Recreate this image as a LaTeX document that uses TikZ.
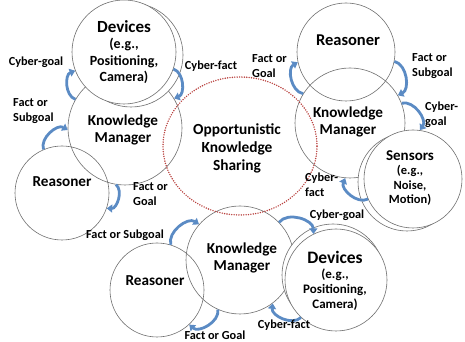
\documentclass[tikz,border=0pt]{standalone}
\usepackage{fontspec}
\setmainfont{Carlito}
\usetikzlibrary{arrows.meta, positioning, calc, shapes.geometric}
\definecolor{ringgray}{HTML}{6E6E6E}
\definecolor{dotred}{HTML}{B8403D}
\definecolor{arrowblue}{HTML}{5B8BC4}

\begin{document}
\begin{tikzpicture}[
        x=1pt, y=1pt,
        font=\bfseries,
        ring/.style={circle, draw=ringgray, line width=0.6pt, inner sep=0pt, minimum size=#1},
        solidring/.style={ring=#1, fill=white},
        share/.style={
            ellipse, 
            draw=dotred, 
            line width=1.6pt, 
            dash pattern=on 0pt off 2.4pt, 
            line cap=round,
            minimum width=154pt, 
            minimum height=138pt,
            inner sep=0pt
        },
        flow/.style={draw=arrowblue, line width=2.8pt, -{Triangle[length=5.5pt, width=8pt]}, bend left=70},
        roletxt/.style={font=\fontsize{15.2}{17}\selectfont\bfseries, align=center},
        subtxt/.style 2 args={font=\fontsize{#1}{#2}\selectfont\bfseries, align=center},
        flowlbl/.style={font=\fontsize{12.3}{15}\selectfont\bfseries, align=left, inner sep=0pt}
    ]
    \useasboundingbox (0,0) rectangle (465,342);

    % Open circles
    \node[ring=114pt] (kmA) at (125,214) {};
    \node[ring=94pt] (reasA) at (62,149) {};
    \node[ring=110pt] (kmB) at (350,219) {};
    \node[ring=98pt] (reasB) at (346,290) {};
    \node[ring=108pt] (kmC) at (240,82) {};
    \node[ring=94pt] (reasC) at (157,52) {};
    \node[share] (oks) at (240,196) {};

    % Devices and sensors (stacked)
    \node[solidring=104pt] (devAb) at (131,287) {};
    \node[solidring=104pt] (devA) at (124,290) {};
    \node[solidring=98pt] (sensBb) at (407,160) {};
    \node[solidring=98pt] (sensB) at (413,163) {};
    \node[solidring=102pt] (devCb) at (333,67) {};
    \node[solidring=102pt] (devC) at (336,62) {};

    % Texts in circles
    \node[subtxt={14}{16.5}] (devAtxt) at (devA) {{\fontsize{17}{20}\selectfont Devices}\\(e.g.,\\Positioning,\\Camera)};
    \node[roletxt] (kmAtxt) at (123,212) {Knowledge\\Manager};
    \node[roletxt] (reasAtxt) at (62,160) {Reasoner};
    \node[roletxt, font=\fontsize{16.5}{19}\selectfont\bfseries] (reasBtxt) at (348,302) {Reasoner};
    \node[roletxt] (kmBtxt) at (348,220) {Knowledge\\Manager};
    \node[subtxt={12.5}{14.5}] (sensBtxt) at (410,164) {{\fontsize{15}{17}\selectfont Sensors}\\(e.g.,\\Noise,\\Motion)};
    \node[roletxt] (kmCtxt) at (242,84) {Knowledge\\Manager};
    \node[roletxt] (reasCtxt) at (155,61) {Reasoner};
    \node[subtxt={13}{14.8}] (devCtxt) at (335,61) {{\fontsize{17.5}{20}\selectfont Devices}\\(e.g.,\\Positioning,\\Camera)};
    \node[roletxt, font=\fontsize{15.4}{18}\selectfont\bfseries] (okstxt) at (237,194) {Opportunistic\\Knowledge\\Sharing};

    % Flows
    \draw[flow] (kmA.150) to (devA.201);
    \draw[flow] (devA.341) to (kmA.31);
    \draw[flow] (reasA.113) to (kmA.182);
    \draw[flow] (kmA.261) to (reasA.341);
    \draw[flow] (kmB.148) to (reasB.192);
    \draw[flow] (reasB.349) to (kmB.30);
    \draw[flow] (kmB.21) to (sensB.82);
    \draw[flow] (sensB.204) to (kmB.265);
    \draw[flow] (kmC.44) to (devC.116);
    \draw[flow] (devC.227) to (kmC.307);
    \draw[flow] (reasC.73) to (kmC.139);
    \draw[flow] (kmC.246) to (reasC.313);

    % Flow labels
    \node[flowlbl] (cgA) at (36,280) {Cyber-goal};
    \node[flowlbl] (cfA) at (211,276) {Cyber-fact};
    \node[flowlbl, anchor=west] (fsA) at (13,231) {Fact or\\Subgoal};
    \node[flowlbl, anchor=west] (fgA) at (133,147.5) {Fact or\\Goal};
    \node[flowlbl, anchor=west] (fgB) at (252,276) {Fact or\\Goal};
    \node[flowlbl, anchor=west] (fsB) at (412,276) {Fact or\\Subgoal};
    \node[flowlbl, anchor=west] (cgB) at (425,227) {Cyber-\\goal};
    \node[flowlbl, anchor=west] (cfB) at (305,157.5) {Cyber-\\fact};
    \node[flowlbl] (cgC) at (337,127) {Cyber-goal};
    \node[flowlbl] (cfC) at (284,17) {Cyber-fact};
    \node[flowlbl] (fsC) at (125,107) {Fact or Subgoal};
    \node[flowlbl] (fgC) at (215,7) {Fact or Goal};

\end{tikzpicture}
\end{document}
